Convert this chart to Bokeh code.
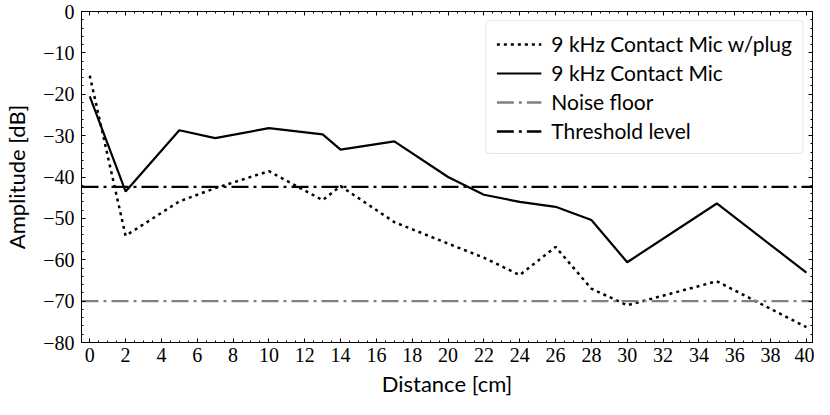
from bokeh.plotting import figure
from bokeh.models import LinearAxis, FixedTicker, Legend, LegendItem, Range1d
from bokeh.embed import file_html
from bokeh.resources import INLINE

# ---- data ----
distance_cm = [0, 2, 5, 7, 10, 13, 14, 17, 20, 22, 24, 26, 28, 30, 35, 40]
mic_plug_db = [-15.5, -54.2, -45.9, -42.7, -38.6, -45.6, -42.2, -50.9,
               -56.1, -59.5, -63.7, -56.9, -67.0, -71.0, -65.2, -76.3]
mic_db = [-20.5, -43.5, -28.7, -30.6, -28.2, -29.7, -33.4, -31.4,
          -40.0, -44.3, -46.0, -47.2, -50.4, -60.6, -46.4, -63.1]
noise_floor_db = -70.0
threshold_db = -42.4

series_labels = ["9 kHz Contact Mic w/plug", "9 kHz Contact Mic",
                 "Noise floor", "Threshold level"]

x_ticks = list(range(0, 41, 2))
x_tick_labels = [str(t) for t in x_ticks]
x_minor_ticks = [i * 0.5 for i in range(0, 81)]
y_ticks = list(range(-80, 1, 10))
y_tick_labels = ["\u221280", "\u221270", "\u221260", "\u221250", "\u221240",
                 "\u221230", "\u221220", "\u221210", "0"]
y_minor_ticks = list(range(-80, 1, 2))
x_limits = (-0.46, 40.34)
y_limits = (-80, 0)

SERIF = "Liberation Serif"
SANS = "Lato"

p = figure(width=814, height=399, output_backend="svg", toolbar_location=None,
           x_range=Range1d(*x_limits), y_range=Range1d(*y_limits),
           x_axis_label="Distance [cm]", y_axis_label="Amplitude [dB]",
           min_border_left=10, min_border_right=2, min_border_top=11,
           min_border_bottom=0)
p.outline_line_color = None
p.xgrid.visible = False
p.ygrid.visible = False
p.background_fill_color = "white"
p.border_fill_color = "white"

# extra axes (top, right) with ticks only
p.add_layout(LinearAxis(), "above")
p.add_layout(LinearAxis(), "right")

for ax in p.xaxis:
    ax.ticker = FixedTicker(ticks=x_ticks, minor_ticks=x_minor_ticks)
for ax in p.yaxis:
    ax.ticker = FixedTicker(ticks=y_ticks, minor_ticks=y_minor_ticks)

for ax in p.axis:
    ax.axis_line_color = "black"
    ax.axis_line_width = 1
    ax.major_tick_line_color = "black"
    ax.minor_tick_line_color = "black"
    ax.major_tick_in = 4
    ax.major_tick_out = 0
    ax.minor_tick_in = 2
    ax.minor_tick_out = 0
    ax.major_label_text_font = SERIF
    ax.major_label_text_font_size = "20px"
    ax.major_label_text_color = "black"
    ax.axis_label_text_font = SANS
    ax.axis_label_text_font_size = "22px"
    ax.axis_label_text_font_style = "normal"
    ax.axis_label_text_color = "black"

p.xaxis[0].major_label_overrides = {t: s for t, s in zip(x_ticks, x_tick_labels)}
p.yaxis[0].major_label_overrides = {t: s for t, s in zip(y_ticks, y_tick_labels)}
p.xaxis[0].major_label_standoff = 3
p.yaxis[0].major_label_standoff = 7
p.xaxis[0].axis_label_standoff = -6
p.yaxis[0].axis_label_standoff = 10

for ax in [p.above[0], p.right[0]]:
    ax.major_label_text_font_size = "0px"
    ax.major_label_standoff = 0
    ax.major_label_text_alpha = 0

# ---- glyphs ----
r_plug = p.line(distance_cm, mic_plug_db, line_color="black", line_width=2.5,
                line_dash="3 4")
r_mic = p.line(distance_cm, mic_db, line_color="black", line_width=2.2)
r_noise = p.line(list(x_limits), [noise_floor_db] * 2, line_color="#808080",
                 line_width=2.3, line_dash="17 5 3 5")
r_thr = p.line(list(x_limits), [threshold_db] * 2, line_color="black",
               line_width=2.3, line_dash="17 5 3 5")

legend = Legend(items=[LegendItem(label=lbl, renderers=[r]) for lbl, r in
                       zip(series_labels, [r_plug, r_mic, r_noise, r_thr])],
                location="top_right")
legend.label_text_font = SANS
legend.label_text_font_size = "21px"
legend.label_text_color = "black"
legend.label_height = 22
legend.glyph_height = 22
legend.glyph_width = 45
legend.spacing = 4
legend.padding = 10
legend.margin = 9
legend.label_standoff = 10
legend.border_line_color = "#cccccc"
legend.border_line_width = 1
legend.background_fill_alpha = 0.8
if "border_radius" in Legend.properties():
    legend.border_radius = 4
p.add_layout(legend)

open("out.html", "w").write(file_html(p, INLINE))
